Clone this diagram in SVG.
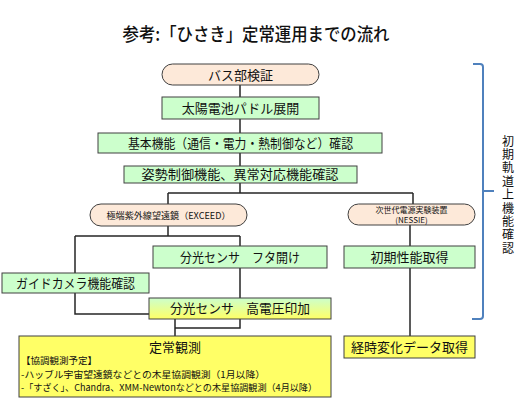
<svg xmlns="http://www.w3.org/2000/svg" width="524" height="400" viewBox="0 0 524 400">
<defs>
<linearGradient id="gy" x1="0" y1="0" x2="0" y2="1">
<stop offset="0" stop-color="#CCFFCC"/>
<stop offset="1" stop-color="#FFFF66"/>
</linearGradient>
<style>
text{font-family:"Noto Sans CJK JP","Noto Sans",sans-serif;fill:#111;}
.t{font-size:13px;text-anchor:middle;}
.s{font-size:9px;text-anchor:middle;}
.g{fill:#CCFFCC;stroke:#404040;stroke-width:1;}
.p{fill:#FDE9D9;stroke:#404040;stroke-width:1;}
.y{fill:#FFFF66;stroke:#404040;stroke-width:1;}
.c{fill:none;stroke:#262626;stroke-width:1.5;}
.v{font-size:12px;writing-mode:vertical-rl;letter-spacing:1.4px;}
</style>
</defs>
<rect width="524" height="400" fill="#fff"/>
<text x="256" y="41" style="font-size:18px;text-anchor:middle;font-weight:500" textLength="267" lengthAdjust="spacingAndGlyphs">参考:「ひさき」定常運用までの流れ</text>
<g id="connectors">
<path class="c" d="M240 85V97M240 119V133M240 153V166M240 183V193M168 193H413M168 193V204M413 193V204"/>
<path class="c" d="M168 226V236M75 236H240M240 236V246M75 236V273M410 225V246"/>
<path class="c" d="M240 268V298M75 293V314H149M175 319V336M240 319V328H175M410 268V336"/>
</g>
<g id="n1"><rect class="p" x="162" y="64" width="157" height="21" rx="10.5"/><text class="t" x="240.5" y="79.5">バス部検証</text></g>
<g id="n2"><rect class="g" x="162" y="97" width="157" height="22"/><text class="t" x="240.5" y="112.5">太陽電池パドル展開</text></g>
<g id="n3"><rect class="g" x="98" y="133" width="284" height="20"/><text class="t" x="240.5" y="147.5" textLength="225" lengthAdjust="spacingAndGlyphs">基本機能（通信・電力・熱制御など）確認</text></g>
<g id="n4"><rect class="g" x="124" y="166" width="233" height="17"/><text class="t" x="240" y="179" textLength="197" lengthAdjust="spacingAndGlyphs">姿勢制御機能、異常対応機能確認</text></g>
<g id="n5"><rect class="p" x="90" y="204" width="157" height="22" rx="11"/><text class="s" x="168.5" y="218.5" textLength="124" lengthAdjust="spacingAndGlyphs">極端紫外線望遠鏡（EXCEED）</text></g>
<g id="n6"><rect class="p" x="348" y="204" width="127" height="21" rx="10.5"/><text class="s" x="411.5" y="213" style="font-size:8px">次世代電源実験装置</text><text class="s" x="411.5" y="222.5" style="font-size:8px">(NESSIE)</text></g>
<g id="n7"><rect class="g" x="153" y="246" width="174" height="22"/><text class="t" x="240" y="261.5" textLength="120" lengthAdjust="spacingAndGlyphs">分光センサ　フタ開け</text></g>
<g id="n8"><rect class="g" x="344" y="246" width="131" height="22"/><text class="t" x="409.5" y="261.5">初期性能取得</text></g>
<g id="n9"><rect class="g" x="2" y="273" width="147" height="20"/><text class="t" x="75.5" y="287.5" textLength="119" lengthAdjust="spacingAndGlyphs">ガイドカメラ機能確認</text></g>
<g id="n10"><rect x="149" y="298" width="182" height="21" fill="url(#gy)" stroke="#404040"/><text class="t" x="240" y="313" textLength="140" lengthAdjust="spacingAndGlyphs">分光センサ　高電圧印加</text></g>
<g id="n11"><rect class="y" x="19" y="336" width="312" height="61"/><text class="t" x="175" y="352">定常観測</text>
<text x="21" y="364" style="font-size:9.5px" textLength="76" lengthAdjust="spacingAndGlyphs">【協調観測予定】</text>
<text x="21" y="377.5" style="font-size:9.5px" textLength="244" lengthAdjust="spacingAndGlyphs">-ハッブル宇宙望遠鏡などとの木星協調観測（1月以降）</text>
<text x="21" y="390.5" style="font-size:9.5px" textLength="296" lengthAdjust="spacingAndGlyphs">-「すざく」、Chandra、XMM-Newtonなどとの木星協調観測（4月以降）</text></g>
<g id="n12"><rect class="y" x="344" y="336" width="131" height="22"/><text class="t" x="409.5" y="351.5">経時変化データ取得</text></g>
<g id="brace">
<path d="M473 64H480Q483 64 483 67V191H494M483 191V316Q483 319 480 319H472" fill="none" stroke="#4F81BD" stroke-width="2"/>
<text class="v" x="508" y="135">初期軌道上機能確認</text>
</g>
</svg>
